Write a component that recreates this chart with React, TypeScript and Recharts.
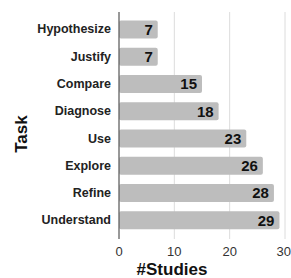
import React from 'react';
import { BarChart, Bar, XAxis, YAxis, CartesianGrid, LabelList } from 'recharts';

const tasks = ['Hypothesize', 'Justify', 'Compare', 'Diagnose', 'Use', 'Explore', 'Refine', 'Understand'];
const studies = [7, 7, 15, 18, 23, 26, 28, 29];
const xTicks = [0, 10, 20, 30];
const xTitle = '#Studies';
const yTitle = 'Task';

const data = tasks.map((t, i) => ({ task: t, value: studies[i] }));

const FONT = '"Liberation Sans", Arial, Helvetica, sans-serif';

export default function App() {
  return (
    <div style={{ position: 'absolute', left: 0, top: 0, width: 291, height: 278, background: '#fff' }}>
      <BarChart
        width={291}
        height={278}
        data={data}
        layout="vertical"
        margin={{ top: 12, right: 6, bottom: 0, left: 0 }}
        style={{ fontFamily: FONT }}
      >
        <CartesianGrid horizontal={false} stroke="#dcdcdc" strokeWidth={1} />
        <XAxis
          type="number"
          domain={[0, 30]}
          ticks={xTicks}
          axisLine={false}
          tickLine={false}
          height={39}
          tick={{ fontSize: 13, fill: '#333', fontFamily: FONT }}
          label={{
            content: () => (
              <text x={172} y={274.5} textAnchor="middle" fontSize={17} fontWeight="bold" fill="#111" fontFamily={FONT}>
                {xTitle}
              </text>
            ),
          }}
        />
        <YAxis
          type="category"
          dataKey="task"
          width={119}
          padding={{ top: 3.4, bottom: 5.4 }}
          axisLine={{ stroke: '#444', strokeWidth: 1 }}
          tickLine={false}
          tick={{ fontSize: 12.5, fontWeight: 'bold', fill: '#222', fontFamily: FONT }}
          label={{
            content: () => (
              <text
                x={21}
                y={134}
                transform="rotate(-90 21 134)"
                textAnchor="middle"
                dominantBaseline="central"
                fontSize={17}
                fontWeight="bold"
                fill="#111"
                fontFamily={FONT}
              >
                {yTitle}
              </text>
            ),
          }}
        />
        <Bar dataKey="value" fill="#bdbdbd" barSize={18} radius={2} isAnimationActive={false}>
          <LabelList
            dataKey="value"
            position="insideRight"
            offset={5}
            style={{ fontSize: 15, fontWeight: 'bold', fill: '#111', fontFamily: FONT }}
          />
        </Bar>
      </BarChart>
    </div>
  );
}
